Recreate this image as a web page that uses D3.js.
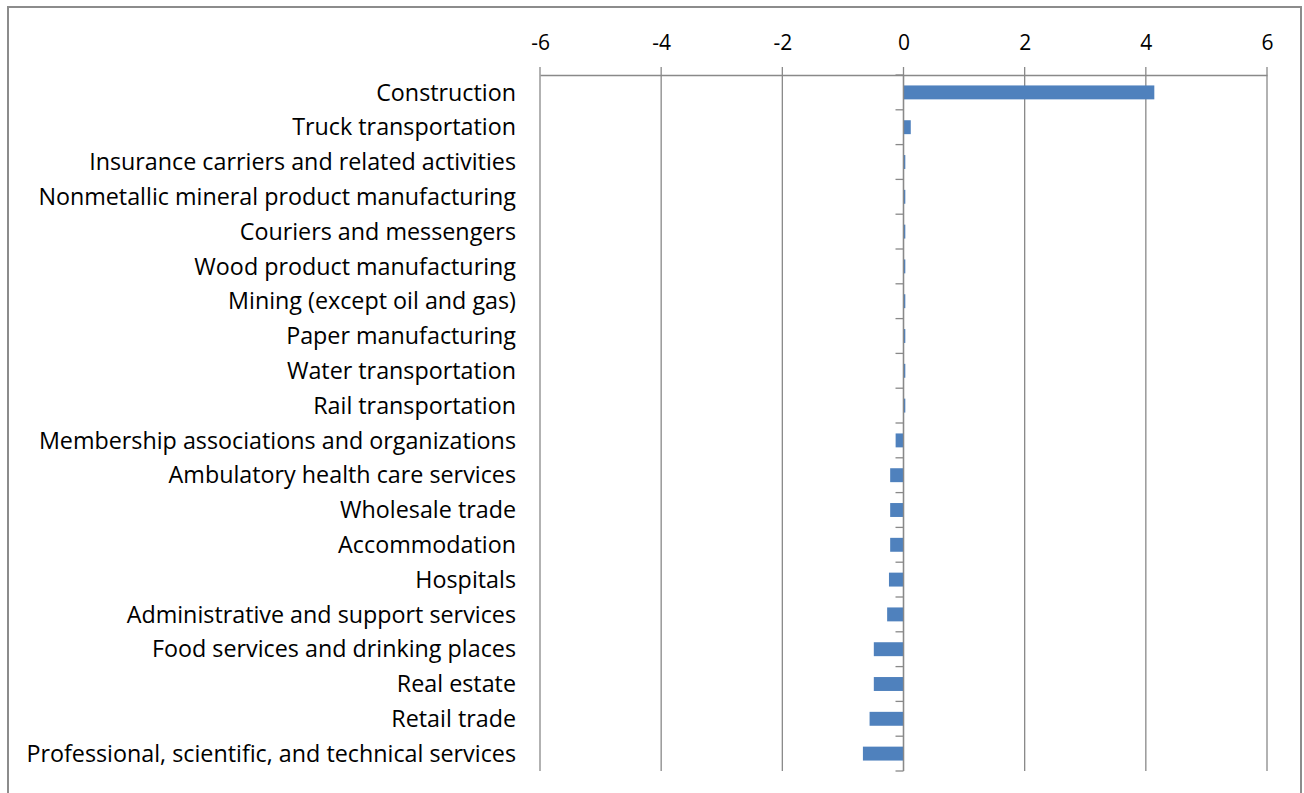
<!DOCTYPE html>
<html>
<head>
<meta charset="utf-8">
<script src="https://cdn.jsdelivr.net/npm/d3@7"></script>
<style>
  html, body { margin: 0; padding: 0; background: #fff; }
  svg { display: block; }
  text { font-family: "Open Sans", "Liberation Sans", sans-serif; fill: #000; }
</style>
</head>
<body>
<svg id="chart" width="1304" height="793"></svg>
<script>
// Industries, top to bottom
const categories = [
  "Construction",
  "Truck transportation",
  "Insurance carriers and related activities",
  "Nonmetallic mineral product manufacturing",
  "Couriers and messengers",
  "Wood product manufacturing",
  "Mining (except oil and gas)",
  "Paper manufacturing",
  "Water transportation",
  "Rail transportation",
  "Membership associations and organizations",
  "Ambulatory health care services",
  "Wholesale trade",
  "Accommodation",
  "Hospitals",
  "Administrative and support services",
  "Food services and drinking places",
  "Real estate",
  "Retail trade",
  "Professional, scientific, and technical services"
];

// Change per industry
const values = [
  4.14, 0.12, 0.03, 0.03, 0.03, 0.03, 0.03, 0.03, 0.03, 0.03,
  -0.13, -0.22, -0.22, -0.22, -0.24, -0.27, -0.49, -0.49, -0.56, -0.67
];

const xTicks = [-6, -4, -2, 0, 2, 4, 6];

const svg = d3.select("#chart");

// chart frame (bottom edge runs past the canvas)
svg.append("rect")
  .attr("x", 8).attr("y", 7)
  .attr("width", 1293).attr("height", 800)
  .attr("fill", "#fff")
  .attr("stroke", "#8c8c8c").attr("stroke-width", 2);

const plot = { left: 540, right: 1267, top: 75, bottom: 771 };

const x = d3.scaleLinear().domain([-6, 6]).range([plot.left, plot.right]);
const y = d3.scaleBand().domain(categories).range([plot.top, plot.bottom]).paddingInner(0.6).paddingOuter(0.3);

const gridColor = "#898989";

// vertical gridlines
svg.append("g")
  .selectAll("line")
  .data(xTicks)
  .join("line")
  .attr("x1", d => x(d)).attr("x2", d => x(d))
  .attr("y1", plot.top - 8).attr("y2", plot.bottom)
  .attr("stroke", gridColor).attr("stroke-width", 1.3);

// top value axis
const xAxis = d3.axisTop(x).tickValues(xTicks).tickSize(0).tickPadding(25)
  .tickFormat(d3.format("d"));
const gx = svg.append("g").attr("transform", `translate(0,${plot.top})`).call(xAxis);
gx.select(".domain").attr("stroke", gridColor).attr("stroke-width", 1.3);
gx.selectAll("text")
  .attr("font-size", 21)
  .style("font-family", "'Open Sans', sans-serif")
  .text(d => d < 0 ? "-" + Math.abs(d) : d);

// bars
svg.append("g")
  .selectAll("rect")
  .data(categories.map((c, i) => ({ c, v: values[i] })))
  .join("rect")
  .attr("x", d => x(Math.min(0, d.v)))
  .attr("width", d => Math.abs(x(d.v) - x(0)))
  .attr("y", d => y(d.c))
  .attr("height", y.bandwidth())
  .attr("fill", "#4f81bd");

// category axis along zero
const boundaries = d3.range(categories.length + 1).map(i => plot.top + i * (plot.bottom - plot.top) / categories.length);
const zx = x(0);
svg.append("line")
  .attr("x1", zx).attr("x2", zx)
  .attr("y1", plot.top).attr("y2", plot.bottom)
  .attr("stroke", gridColor).attr("stroke-width", 1.3);
svg.append("g")
  .selectAll("line")
  .data(boundaries)
  .join("line")
  .attr("x1", zx - 8).attr("x2", zx)
  .attr("y1", d => d).attr("y2", d => d)
  .attr("stroke", gridColor).attr("stroke-width", 1.3);

// category labels
svg.append("g")
  .selectAll("text")
  .data(categories)
  .join("text")
  .attr("x", 516)
  .attr("y", d => y(d) + y.bandwidth() / 2)
  .attr("dy", "0.35em")
  .attr("text-anchor", "end")
  .attr("font-size", 23.3)
  .text(d => d);
</script>
</body>
</html>
